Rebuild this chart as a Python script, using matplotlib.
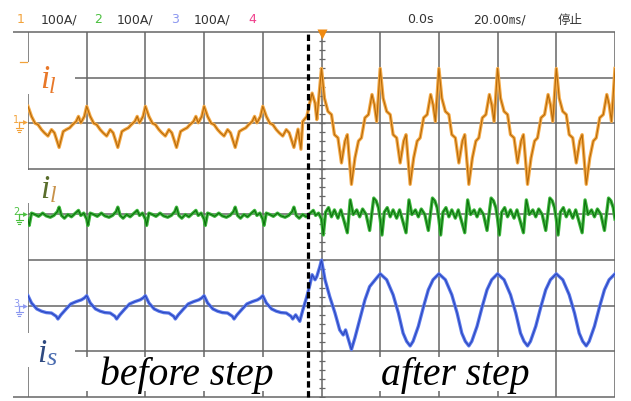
import matplotlib
matplotlib.use('Agg')
import matplotlib.pyplot as plt
from matplotlib.patches import Rectangle
import numpy as np

# ---------------- data (A, 100 A/div, 20 ms/div) ----------------
volts_per_div = 100
ch_offsets = {'ch1': 6, 'ch2': 4, 'ch3': 2}          # ground levels (div)
x_divisions = list(range(11))
y_divisions = list(range(9))
step_time = 4.77                                    # dashed line position (div)

# channel 1 (i_l, orange) one period before step (phase, A)
ch1_pre_phase = [0.00, 0.06, 0.12, 0.17, 0.23, 0.28, 0.34, 0.40, 0.45, 0.53, 0.60, 0.65, 0.71, 0.76, 0.82, 0.86, 0.90, 0.96]
ch1_pre_amp = [37, 15, 0, -3, -14, -21, -28, -14, -21, -53, -18, -14, -10, -3, 4, 15, 1, 15]
ch1_step_x = [4.60, 4.65, 4.68, 4.75, 4.80, 4.84, 4.89, 4.92, 4.97]
ch1_step_amp = [-13, -57, 4, 15, 44, 66, 44, 8, 77]
ch1_post_phase = [0.00, 0.05, 0.11, 0.17, 0.22, 0.28, 0.34, 0.40, 0.44, 0.51, 0.57, 0.63, 0.68, 0.74, 0.80, 0.86, 0.90, 0.94]
ch1_post_amp = [120, 55, 26, 19, -25, -32, -87, -39, -25, -134, -76, -39, -32, 12, 19, 63, 41, 4]

# channel 2 (i_l, green)
ch2_pre_phase = [0.00, 0.02, 0.06, 0.12, 0.18, 0.25, 0.31, 0.38, 0.44, 0.50, 0.53, 0.57, 0.62, 0.68, 0.74, 0.80, 0.86, 0.90, 0.95]
ch2_pre_amp = [-10, -24, 3, 0, -4, 3, -3, -6, -2, 6, 16, -2, -8, 0, -5, 2, 9, -2, 3]
ch2_post_phase = [0.00, 0.03, 0.07, 0.12, 0.17, 0.22, 0.28, 0.33, 0.38, 0.44, 0.49, 0.54, 0.60, 0.65, 0.70, 0.76, 0.82, 0.89, 0.93, 0.97]
ch2_post_amp = [-10, -45, 5, 15, -5, 10, -8, 10, -12, -40, 32, 0, 10, -5, 12, 0, -35, 36, 30, 15]

# channel 3 (i_s, blue)
ch3_pre_phase = [0.00, 0.06, 0.15, 0.23, 0.31, 0.40, 0.48, 0.51, 0.56, 0.65, 0.73, 0.82, 0.91, 0.96]
ch3_pre_amp = [22, 6, -7, -12, -15, -16, -23, -29, -20, -7, 4, 9, 13, 17]
ch3_step_x = [4.63, 4.68, 4.75, 4.80, 4.84, 4.89, 4.92, 4.97]
ch3_step_amp = [-34, -10, 20, 45, 68, 57, 64, 85]
ch3_first_phase = [0.00, 0.06, 0.14, 0.23, 0.31, 0.37, 0.41, 0.45, 0.51, 0.57, 0.65, 0.74, 0.82, 0.94]
ch3_first_amp = [100, 57, 20, -16, -53, -64, -53, -70, -96, -70, -31, 13, 42, 61]
ch3_post_phase = [0.00, 0.11, 0.22, 0.31, 0.39, 0.45, 0.51, 0.56, 0.65, 0.74, 0.82, 0.90]
ch3_post_amp = [70, 57, 24, -16, -60, -78, -88, -78, -45, -1, 35, 57]

header_left = [('1', '#F2A23A'), ('100A/', '#333333'), ('2', '#4CC040'), ('100A/', '#333333'),
               ('3', '#8C98F0'), ('100A/', '#333333'), ('4', '#F0408C')]
header_right = ['0.0s', '20.00㎳/', '停止']


def build(pre_ph, pre_a, pre_end, post_ph, post_a, post_start,
          step_x=(), step_a=(), first_ph=None, first_a=None):
    xs, ys = [], []
    for k in range(10):
        for p, a in zip(pre_ph, pre_a):
            if k + p < pre_end:
                xs.append(k + p); ys.append(a)
    xs += list(step_x); ys += list(step_a)
    start = post_start
    if first_ph is not None:
        for p, a in zip(first_ph, first_a):
            xs.append(post_start + p); ys.append(a)
        start = post_start + 1
    for k in range(int(start), 11):
        for p, a in zip(post_ph, post_a):
            if k + p <= 10:
                xs.append(k + p); ys.append(a)
    return np.array(xs), np.array(ys)


# ---------------- figure ----------------
W, H = 631, 401
L, R, T, B = 28, 615, 32, 397
fig = plt.figure(figsize=(W / 100, H / 100), dpi=100)
fig.patch.set_facecolor('white')
ax = fig.add_axes([L / W, (H - B) / H, (R - L) / W, (B - T) / H])
ax.set_xlim(0, 10)
ax.set_ylim(0, 8)
ax.axis('off')


def px(x, y):
    return ((x - L) / (R - L) * 10, (B - y) / (B - T) * 8)


gcol = '#666666'
for gx in x_divisions:
    ax.plot([gx, gx], [0, 8], color=gcol, lw=1.1, zorder=1, solid_capstyle='butt')
for gy in y_divisions:
    x0 = px(13, 0)[0] if gy in (0, 8) else 0
    ax.plot([x0, 10], [gy, gy], color=gcol, lw=1.1, zorder=1, clip_on=False, solid_capstyle='butt')

# minor ticks on centre vertical axis
ticks = np.arange(0, 8.001, 0.2)
ax.plot(np.full(len(ticks), 5.0), ticks, ls='none', marker='_', ms=4, mew=0.9, color=gcol, zorder=1)

# white boxes behind labels
for (x0, y0, x1, y1) in [(24, 62, 75, 94), (24, 170, 75, 203), (24, 333, 75, 367),
                         (80, 357, 300, 391), (372, 357, 530, 391)]:
    a0 = px(x0, y1); a1 = px(x1, y0)
    ax.add_patch(Rectangle(a0, a1[0] - a0[0], a1[1] - a0[1], facecolor='white', edgecolor='none', zorder=2))

# traces
x1, y1 = build(ch1_pre_phase, ch1_pre_amp, 4.60, ch1_post_phase, ch1_post_amp, 5, ch1_step_x, ch1_step_amp)
x2, y2 = build(ch2_pre_phase, ch2_pre_amp, 5.0, ch2_post_phase, ch2_post_amp, 5)
x3, y3 = build(ch3_pre_phase, ch3_pre_amp, 4.63, ch3_post_phase, ch3_post_amp, 5, ch3_step_x, ch3_step_amp,
               ch3_first_phase, ch3_first_amp)

for xs, ys, off, halo, core in [(x1, y1, ch_offsets['ch1'], '#F4AA48', '#B86A08'),
                                (x2, y2, ch_offsets['ch2'], '#3FB83F', '#0E700E'),
                                (x3, y3, ch_offsets['ch3'], '#5C7AEA', '#2A46C0')]:
    yy = off + ys / volts_per_div
    ax.plot(xs, yy, color=halo, lw=2.4, zorder=3, solid_joinstyle='round')
    ax.plot(xs, yy, color=core, lw=0.8, zorder=4, solid_joinstyle='round')

# dashed step line
ax.plot([step_time, step_time], [0, 8], color='black', lw=2.3, ls=(0, (2.0, 1.1)), zorder=6,
        clip_on=False, dash_capstyle='butt')

# trigger marker
ax.plot([5.0], [px(0, 34.5)[1]], marker='v', ms=7, color='#F08A10', mec='none', clip_on=False, zorder=7)

# channel ground markers
for ch, yc, col in [('1', 122, '#F2A23A'), ('2', 214, '#4CC040'), ('3', 306, '#8C98F0')]:
    tx, ty = px(16, yc - 2)
    ax.text(tx, ty, ch, color=col, fontsize=7, ha='center', va='center', clip_on=False)
    ax.plot([px(19, 0)[0], px(24, 0)[0]], [px(0, yc)[1]] * 2, color=col, lw=0.9, clip_on=False)
    ax.plot([px(25, 0)[0]], [px(0, yc)[1]], marker='>', ms=3.5, color=col, mec='none', clip_on=False)
    ax.plot([px(19, 0)[0]] * 2, [px(0, yc)[1], px(0, yc + 6)[1]], color=col, lw=0.9, clip_on=False)
    for dy, hw in [(6, 3.5), (8, 2.3), (10, 1.1)]:
        ax.plot([px(19 - hw, 0)[0], px(19 + hw, 0)[0]], [px(0, yc + dy)[1]] * 2, color=col, lw=0.8,
                clip_on=False)
ax.plot([px(20, 0)[0], px(27, 0)[0]], [px(0, 62)[1]] * 2, color='#F2A23A', lw=0.9, clip_on=False)

# header
hx = [17, 41, 94, 117, 171, 194, 248]
for (txt, col), x in zip(header_left, hx):
    tx, ty = px(x, 20)
    ax.text(tx, ty, txt, color=col, fontsize=9, ha='left', va='center', clip_on=False,
            family=['DejaVu Sans'])
for txt, x in zip(header_right, [407, 473, 558]):
    tx, ty = px(x, 20)
    ax.text(tx, ty, txt, color='#333333', fontsize=9, ha='left', va='center', clip_on=False,
            family=['DejaVu Sans', 'Noto Sans CJK SC'])

# trace labels
serif = ['Liberation Serif', 'DejaVu Serif']
def lab(x, y, s, col, size):
    tx, ty = px(x, y)
    ax.text(tx, ty, s, color=col, fontsize=size, style='italic', family=serif,
            ha='left', va='baseline', zorder=8)

lab(40, 88, 'i', '#E8782A', 24)
lab(49, 93, 'l', '#E8782A', 17)
lab(40, 198, 'i', '#5A6E2C', 24)
lab(50, 202, 'l', '#C8924A', 17)
lab(37, 362, 'i', '#2F4A80', 24)
lab(47, 365, 's', '#4A6CB0', 19)

tx, ty = px(100, 385)
ax.text(tx, ty, 'before step', fontsize=28.5, style='italic', family=serif, color='black',
        ha='left', va='baseline', zorder=8)
tx, ty = px(381, 385)
ax.text(tx, ty, 'after step', fontsize=28.5, style='italic', family=serif, color='black',
        ha='left', va='baseline', zorder=8)

fig.savefig('out.png', dpi=100, facecolor='white')
